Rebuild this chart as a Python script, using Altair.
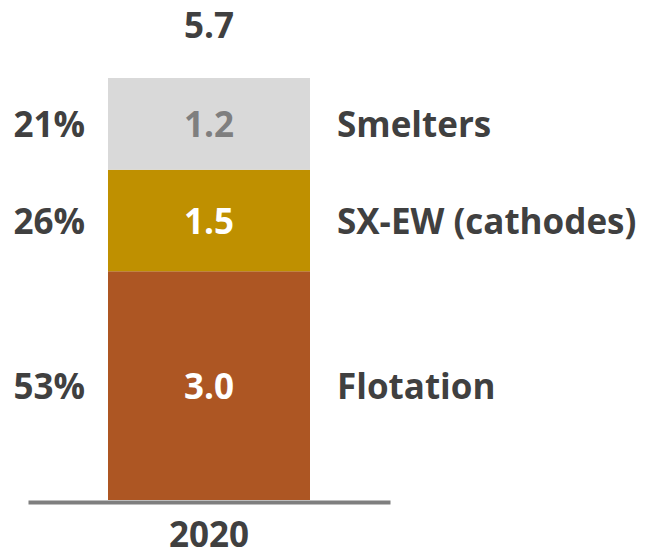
import altair as alt
import pandas as pd

years = ["2020"]
categories = ["Flotation", "SX-EW (cathodes)", "Smelters"]
values = [3.09, 1.37, 1.24]          # bar heights as drawn
value_labels = ["3.0", "1.5", "1.2"]
shares = ["53%", "26%", "21%"]
total_value = 5.7
total_label = "5.7"
colors = ["#AD5623", "#BF9000", "#D9D9D9"]
value_text_colors = ["#FFFFFF", "#FFFFFF", "#7F7F7F"]

df = pd.DataFrame({
    "year": years * len(categories),
    "category": categories,
    "value": values,
    "vlabel": value_labels,
    "share": shares,
    "order": list(range(len(categories))),
    "vcolor": value_text_colors,
})
tot = pd.DataFrame({"year": years, "total": [total_value], "label": [total_label]})

FONT = "Open Sans"
TXT = "#404040"
FS = 35

xaxis = alt.Axis(title=None, ticks=False, domainColor="#7F7F7F", domainWidth=4, offset=2,
                 labelFontSize=FS, labelFont=FONT, labelFontWeight="bold",
                 labelColor=TXT, labelPadding=16, labelAngle=0)
x = alt.X("year:N", axis=xaxis)
yscale = alt.Scale(domain=[0, total_value], nice=False, zero=True)

base = alt.Chart(df).transform_stack(
    stack="value", as_=["y0", "y1"], groupby=["year"], sort=[alt.SortField("order")]
).transform_calculate(mid="(datum.y0 + datum.y1) / 2")

bars = base.mark_bar(size=202).encode(
    x=x,
    y=alt.Y("y1:Q", scale=yscale, axis=None),
    y2="y0:Q",
    color=alt.Color("category:N", scale=alt.Scale(domain=categories, range=colors), legend=None),
)

vals = base.mark_text(font=FONT, fontWeight="bold", fontSize=FS, baseline="middle", dy=2).encode(
    x=x, y=alt.Y("mid:Q", scale=yscale, axis=None), text="vlabel:N",
    color=alt.Color("vcolor:N", scale=None),
)

pcts = base.mark_text(font=FONT, fontWeight="bold", fontSize=FS, baseline="middle", dy=2,
                      align="right", dx=-124, color=TXT).encode(
    x=x, y=alt.Y("mid:Q", scale=yscale, axis=None), text="share:N",
)

names = base.mark_text(font=FONT, fontWeight="bold", fontSize=FS, baseline="middle", dy=2,
                       align="left", dx=128, color=TXT).encode(
    x=x, y=alt.Y("mid:Q", scale=yscale, axis=None), text="category:N",
)

total = alt.Chart(tot).mark_text(font=FONT, fontWeight="bold", fontSize=FS, baseline="middle",
                                 dy=-51, color=TXT).encode(
    x=x, y=alt.Y("total:Q", scale=yscale, axis=None), text="label:N",
)

chart = alt.layer(bars, vals, pcts, names, total).properties(
    width=362, height=422,
    autosize=alt.AutoSizeParams(type="none"),
    padding={"left": 20, "top": 70, "right": 252, "bottom": 47},
).configure_view(stroke=None)

chart.save("out.html", embed_options={"renderer": "svg", "actions": False})
